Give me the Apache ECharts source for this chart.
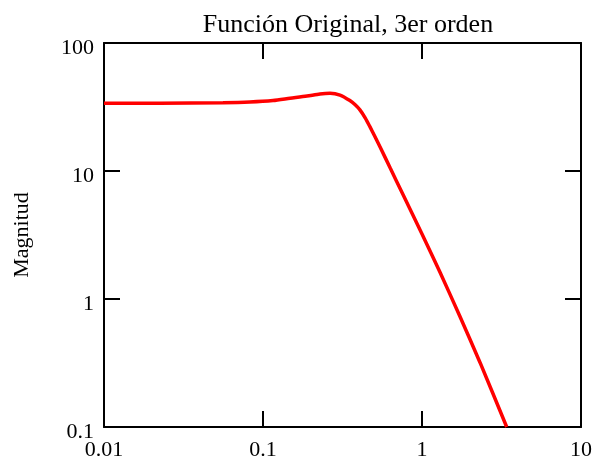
<!DOCTYPE html>
<html>
<head>
<meta charset="utf-8">
<script src="https://cdn.jsdelivr.net/npm/echarts@6/dist/echarts.min.js"></script>
<style>
  html, body { margin: 0; padding: 0; background: #fff; }
  #chart { width: 601px; height: 462px; }
</style>
</head>
<body>
<div id="chart"></div>
<script>
// Frequency response of the original 3rd-order function (log-log)
const titleText = 'Función Original, 3er orden';
const yName = 'Magnitud';
const freq = [0.01, 0.0225, 0.056, 0.0828, 0.1156, 0.148, 0.189, 0.228, 0.264, 0.305, 0.352, 0.38, 0.407, 0.44, 0.471, 0.5, 0.545, 0.63, 0.762, 1.0, 1.3, 1.73, 2.32, 3.41];
const magnitude = [33.8, 33.9, 34.2, 34.6, 35.5, 37.0, 38.5, 40.0, 40.5, 39.2, 35.5, 32.9, 30.0, 25.9, 22.1, 19.1, 15.4, 10.6, 6.49, 3.22, 1.61, 0.733, 0.318, 0.1];
const xRange = [0.01, 10];
const yRange = [0.1, 100];

const points = freq.map((f, i) => [f, magnitude[i]]);
const font = 'Liberation Serif';
const fmt = v => String(+Number(v).toPrecision(3));

const frameLine = { show: true, lineStyle: { color: '#000', width: 2 } };
const innerTick = { show: true, inside: true, length: 16, lineStyle: { color: '#000', width: 2 } };

const chart = echarts.init(document.getElementById('chart'), null, { renderer: 'canvas' });
chart.setOption({
  animation: false,
  backgroundColor: '#fff',
  title: {
    text: titleText,
    left: 343,
    top: 7,
    textAlign: 'center',
    textStyle: { fontFamily: font, fontSize: 26, fontWeight: 'normal', color: '#000' }
  },
  grid: { left: 104, right: 20, top: 43, bottom: 35, containLabel: false },
  xAxis: [
    {
      type: 'log', logBase: 10, min: xRange[0], max: xRange[1],
      axisLine: frameLine, axisTick: innerTick, splitLine: { show: false }, minorTick: { show: false },
      axisLabel: { fontFamily: font, fontSize: 22, color: '#000', margin: 12, formatter: fmt }
    },
    {
      type: 'log', logBase: 10, min: xRange[0], max: xRange[1], position: 'top',
      axisLine: frameLine, axisTick: innerTick, splitLine: { show: false },
      axisLabel: { show: false }
    }
  ],
  yAxis: [
    {
      type: 'log', logBase: 10, min: yRange[0], max: yRange[1],
      name: yName, nameLocation: 'middle', nameGap: 71, nameRotate: 90,
      nameTextStyle: { fontFamily: font, fontSize: 22, color: '#000' },
      axisLine: frameLine, axisTick: innerTick, splitLine: { show: false },
      axisLabel: {
        fontFamily: font, fontSize: 22, color: '#000', margin: 10,
        verticalAlign: 'top', lineHeight: 10, formatter: fmt
      }
    },
    {
      type: 'log', logBase: 10, min: yRange[0], max: yRange[1], position: 'right',
      axisLine: frameLine, axisTick: innerTick, splitLine: { show: false },
      axisLabel: { show: false }
    }
  ],
  series: [
    {
      type: 'line',
      data: points,
      xAxisIndex: 0, yAxisIndex: 0,
      smooth: 0.25,
      showSymbol: false,
      clip: true,
      lineStyle: { color: '#ff0000', width: 3.5 }
    }
  ]
});
</script>
</body>
</html>
